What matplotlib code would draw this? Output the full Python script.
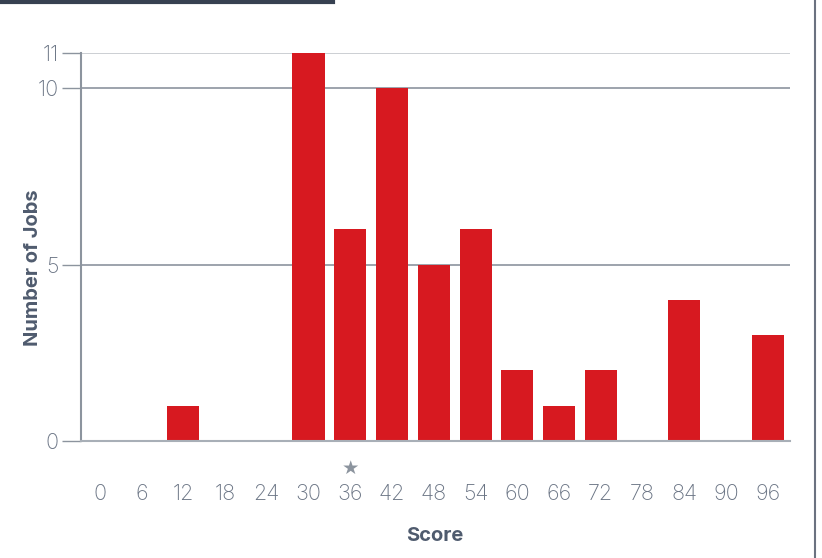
## Histogram of job scores

import numpy as np
import matplotlib.pyplot as plt
from matplotlib.lines import Line2D

## Data
scores = [0, 6, 12, 18, 24, 30, 36, 42, 48, 54, 60, 66, 72, 78, 84, 90, 96]
n_jobs = [0, 0, 1, 0, 0, 11, 6, 10, 5, 6, 2, 1, 2, 0, 4, 0, 3]
y_ticks = [0, 5, 10, 11]
marked_score = 36

bar_color = '#d71920'
grid_color = '#c3c7cc'
axis_color = '#8c949e'
text_color = '#6b7585'
label_color = '#4f5b6e'

plt.rcParams['font.family'] = ['Inter', 'DejaVu Sans']

fig = plt.figure(figsize=(8.22, 5.58), dpi=100)
W, H = 822, 558
ax = fig.add_axes([81 / W, 1 - 441 / H, (790 - 81) / W, (441 - 53) / H])

x = np.arange(len(scores))
ax.bar(x, n_jobs, width=0.77, color=bar_color, zorder=3)

ax.set_xlim(-0.45, len(scores) - 0.47)
ax.set_ylim(0, 11)

ax.set_xticks(x)
ax.set_xticklabels([str(s) for s in scores])
ax.set_yticks(y_ticks)
ax.tick_params(axis='x', length=0, pad=31, labelsize=15.5, labelcolor=text_color)
ax.tick_params(axis='y', length=14, width=1, color=axis_color, pad=2,
               labelsize=15.5, labelcolor=text_color)
for lbl in ax.get_xticklabels() + ax.get_yticklabels():
    lbl.set_fontweight('light')

# horizontal gridlines, top one lighter
for v in y_ticks[1:]:
    ax.axhline(v, color=grid_color if v == 11 else axis_color, lw=1.2, zorder=1)

for side in ['top', 'right']:
    ax.spines[side].set_visible(False)
ax.spines['left'].set_color(axis_color)
ax.spines['left'].set_linewidth(1.5)
ax.spines['bottom'].set_color('#a8afb7')
ax.spines['bottom'].set_linewidth(1.5)
ax.spines['bottom'].set_zorder(4)

# star marker under the highlighted score
ax.annotate('\u2605', xy=(scores.index(marked_score), 0), xycoords='data',
            xytext=(0, -20), textcoords='offset points', ha='center', va='center',
            fontsize=14, color='#8c949e', family='DejaVu Sans')

ax.set_xlabel('Score', fontsize=14.5, fontweight='bold', color=label_color)
ax.set_ylabel('Number of Jobs', fontsize=14.5, fontweight='bold', color=label_color)
ax.xaxis.set_label_coords((435 - 81) / (790 - 81), -(527 - 441) / (441 - 53))
ax.yaxis.set_label_coords(-(81 - 42) / (790 - 81), (441 - 268) / (441 - 53))

# frame decorations
fig.add_artist(Line2D([0, 333 / W], [1 - 1.5 / H, 1 - 1.5 / H], color='#374151', lw=3))
fig.add_artist(Line2D([815 / W, 815 / W], [0, 1], color='#6b7280', lw=1.5))

fig.savefig('out.png', dpi=100)
